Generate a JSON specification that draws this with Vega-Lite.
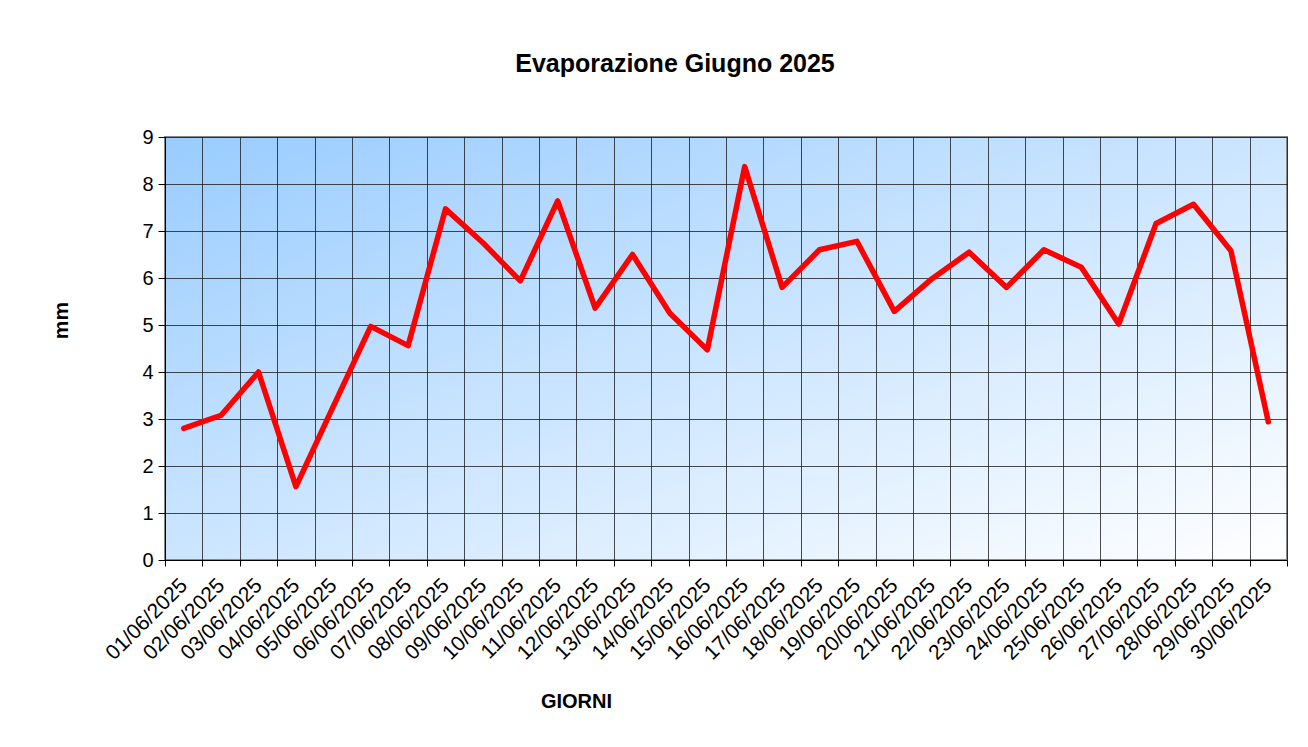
{
  "$schema": "https://vega.github.io/schema/vega-lite/v6.json",
  "width": 1122,
  "height": 423,
  "autosize": "none",
  "padding": {"left": 165, "top": 137, "right": 20, "bottom": 187},
  "background": "white",
  "title": {"text": "Evaporazione Giugno 2025", "font": "Liberation Sans", "fontSize": 25, "fontWeight": "bold", "color": "black", "anchor": "middle", "frame": "group", "dx": -51, "offset": 50},
  "config": {
    "view": {
      "stroke": "#888888",
      "strokeWidth": 2,
      "fill": {"gradient": "linear", "x1": 0, "y1": 0, "x2": 1, "y2": 1, "stops": [{"offset": 0, "color": "#99CCFF"}, {"offset": 1, "color": "#FFFFFF"}]}
    },
    "axis": {"labelFont": "Liberation Sans", "titleFont": "Liberation Sans", "labelColor": "black", "titleColor": "black", "labelFontSize": 20, "titleFontSize": 20, "titleFontWeight": "bold", "domainColor": "black", "tickColor": "black", "gridColor": "#111111", "gridOpacity": 0.75, "gridWidth": 1, "grid": true}
  },
  "data": {"values": [
    {"giorno": "01/06/2025", "mm": 2.80},
    {"giorno": "02/06/2025", "mm": 3.08},
    {"giorno": "03/06/2025", "mm": 4.00},
    {"giorno": "04/06/2025", "mm": 1.56},
    {"giorno": "05/06/2025", "mm": 3.27},
    {"giorno": "06/06/2025", "mm": 4.97},
    {"giorno": "07/06/2025", "mm": 4.56},
    {"giorno": "08/06/2025", "mm": 7.47},
    {"giorno": "09/06/2025", "mm": 6.75},
    {"giorno": "10/06/2025", "mm": 5.94},
    {"giorno": "11/06/2025", "mm": 7.64},
    {"giorno": "12/06/2025", "mm": 5.36},
    {"giorno": "13/06/2025", "mm": 6.50},
    {"giorno": "14/06/2025", "mm": 5.25},
    {"giorno": "15/06/2025", "mm": 4.47},
    {"giorno": "16/06/2025", "mm": 8.37},
    {"giorno": "17/06/2025", "mm": 5.80},
    {"giorno": "18/06/2025", "mm": 6.60},
    {"giorno": "19/06/2025", "mm": 6.78},
    {"giorno": "20/06/2025", "mm": 5.29},
    {"giorno": "21/06/2025", "mm": 5.98},
    {"giorno": "22/06/2025", "mm": 6.55},
    {"giorno": "23/06/2025", "mm": 5.80},
    {"giorno": "24/06/2025", "mm": 6.60},
    {"giorno": "25/06/2025", "mm": 6.23},
    {"giorno": "26/06/2025", "mm": 5.02},
    {"giorno": "27/06/2025", "mm": 7.16},
    {"giorno": "28/06/2025", "mm": 7.57},
    {"giorno": "29/06/2025", "mm": 6.58},
    {"giorno": "30/06/2025", "mm": 2.94}
  ]},
  "mark": {"type": "line", "color": "#FF0000", "strokeWidth": 5.5, "strokeCap": "round", "strokeJoin": "round"},
  "encoding": {
    "x": {
      "field": "giorno", "type": "nominal", "sort": null, "bandPosition": 0.5,
      "scale": {"type": "band", "paddingInner": 0, "paddingOuter": 0},
      "axis": {"title": "GIORNI", "grid": true, "labelAngle": -45, "labelAlign": "right", "labelBaseline": "middle", "tickBand": "extent", "tickSize": 6, "labelPadding": 16, "labelFontSize": 21, "labelOverlap": false, "titleX": 411, "titleY": 147, "titleAlign": "center", "titleBaseline": "alphabetic", "titleAngle": 0}
    },
    "y": {
      "field": "mm", "type": "quantitative",
      "scale": {"domain": [0, 9], "nice": false},
      "axis": {"title": "mm", "values": [0, 1, 2, 3, 4, 5, 6, 7, 8, 9], "tickSize": 7, "labelPadding": 5, "titleFontSize": 21, "titleX": -98, "titleY": 183, "titleAngle": -90, "titleAlign": "center", "titleBaseline": "alphabetic"}
    }
  }
}
